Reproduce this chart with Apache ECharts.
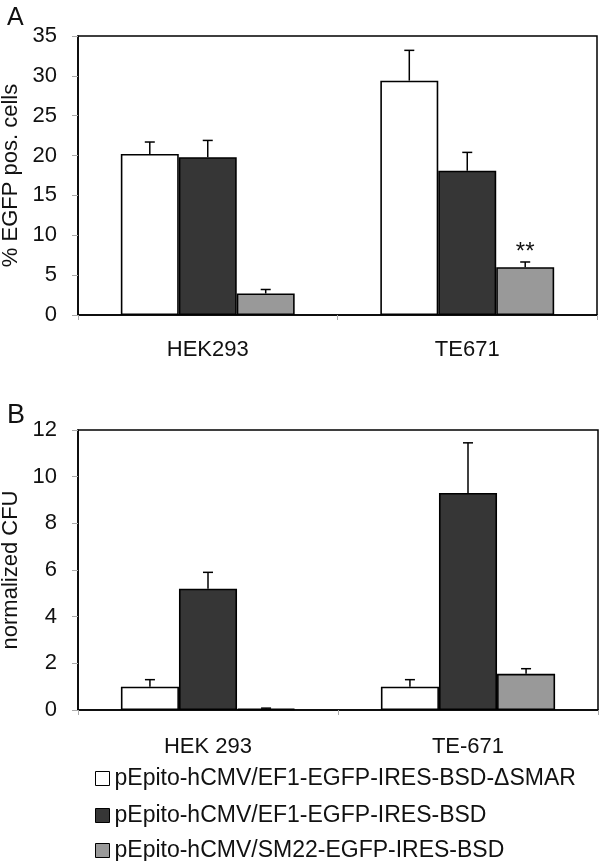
<!DOCTYPE html>
<html>
<head>
<meta charset="utf-8">
<script src="https://cdn.jsdelivr.net/npm/echarts@6/dist/echarts.min.js"></script>
<style>
html,body{margin:0;padding:0;background:#fff;}
#chart{width:600px;height:861px;}
</style>
</head>
<body>
<div id="chart"></div>
<script>
// ---- Data ----
const seriesNames = [
  'pEpito-hCMV/EF1-EGFP-IRES-BSD-\u0394SMAR',
  'pEpito-hCMV/EF1-EGFP-IRES-BSD',
  'pEpito-hCMV/SM22-EGFP-IRES-BSD'
];
const categoriesA = ['HEK293', 'TE671'];
const categoriesB = ['HEK 293', 'TE-671'];

// Panel A: % EGFP pos. cells
const aWhite = [20.2, 29.4];
const aWhiteErr = [1.5, 3.8];
const aDark = [19.8, 18.1];
const aDarkErr = [2.1, 2.3];
const aGray = [2.7, 6.0];
const aGrayErr = [0.5, 0.65];
const aGrayMarks = ['', '**'];

// Panel B: normalized CFU
const bWhite = [1.0, 1.0];
const bWhiteErr = [0.3, 0.3];
const bDark = [5.2, 9.3];
const bDarkErr = [0.7, 2.15];
const bGray = [0.05, 1.55];
const bGrayErr = [0.03, 0.22];

const colors = ['#ffffff', '#363636', '#999999'];
const FONT = 'Liberation Sans, Arial, sans-serif';
const GAP = 0.67; // fraction of band occupied by bar group

function renderErr(params, api) {
  const cat = api.value(0), val = api.value(1), err = api.value(2), k = api.value(3);
  const base = api.coord([cat, val]);
  const top = api.coord([cat, val + err]);
  const band = api.size([1, 0])[0];
  const bw = band * GAP / 3;
  const x = base[0] + (k - 1) * bw;
  const st = { stroke: '#000', lineWidth: 1.5 };
  return {
    type: 'group',
    children: [
      { type: 'line', shape: { x1: x, y1: base[1], x2: x, y2: top[1] }, style: st },
      { type: 'line', shape: { x1: x - 5, y1: top[1], x2: x + 5, y2: top[1] }, style: st }
    ]
  };
}

function errData(vals, errs, k) {
  return vals.map((v, i) => [i, v, errs[i], k]);
}

function barSeries(name, data, k, gi, extra) {
  return Object.assign({
    name: name,
    type: 'bar',
    xAxisIndex: gi, yAxisIndex: gi,
    data: data,
    barGap: '0%',
    barCategoryGap: '33%',
    itemStyle: { color: colors[k], borderColor: '#000', borderWidth: 1.6 },
    emphasis: { disabled: true },
    z: 2
  }, extra || {});
}

function errSeries(vals, errs, k, gi) {
  return {
    type: 'custom',
    xAxisIndex: gi, yAxisIndex: gi,
    renderItem: renderErr,
    data: errData(vals, errs, k),
    z: 3,
    silent: true
  };
}

function xAxisCfg(cats, gi, margin) {
  return {
    type: 'category', gridIndex: gi, data: cats,
    axisLine: { lineStyle: { color: '#000', width: 1.5 } },
    axisTick: { show: true, length: 5, lineStyle: { color: '#aaa' } },
    axisLabel: { color: '#111', fontSize: 22, fontFamily: FONT, margin: margin }
  };
}

function yAxisCfg(gi, max, interval, name) {
  return {
    type: 'value', gridIndex: gi, min: 0, max: max, interval: interval,
    name: name, nameLocation: 'middle', nameGap: 55,
    nameTextStyle: { color: '#111', fontSize: 22, fontFamily: FONT },
    axisLine: { show: true, lineStyle: { color: '#000', width: 1.5 } },
    axisTick: { show: true, length: 6, lineStyle: { color: '#aaa' } },
    axisLabel: { color: '#111', fontSize: 22, fontFamily: FONT, margin: 21 },
    splitLine: { show: false }
  };
}

function legendCfg(i, top) {
  return {
    orient: 'horizontal', left: 95, top: top, padding: 0,
    itemWidth: 14, itemHeight: 14,
    icon: 'rect',
    data: [seriesNames[i]],
    itemStyle: { borderColor: '#000', borderWidth: 1 },
    textStyle: { color: '#111', fontSize: 23, lineHeight: 22, fontFamily: FONT }
  };
}

const chart = echarts.init(document.getElementById('chart'), null, { renderer: 'canvas' });
chart.setOption({
  animation: false,
  backgroundColor: '#fff',
  title: [
    { text: 'A', left: 2, top: 1, textStyle: { fontSize: 25, fontWeight: 'normal', color: '#111', fontFamily: FONT } },
    { text: 'B', left: 2, top: 397, textStyle: { fontSize: 27, fontWeight: 'normal', color: '#111', fontFamily: FONT } }
  ],
  grid: [
    { left: 78, right: 3, top: 36, height: 279, containLabel: false, outerBoundsMode: 'none', show: true, borderColor: '#000', borderWidth: 1.5, backgroundColor: 'transparent' },
    { left: 78, right: 2, top: 430, height: 280, containLabel: false, outerBoundsMode: 'none', show: true, borderColor: '#000', borderWidth: 1.5, backgroundColor: 'transparent' }
  ],
  xAxis: [xAxisCfg(categoriesA, 0, 24), xAxisCfg(categoriesB, 1, 26)],
  yAxis: [yAxisCfg(0, 35, 5, '% EGFP pos. cells'), yAxisCfg(1, 12, 2, 'normalized CFU')],
  legend: [legendCfg(0, 767), legendCfg(1, 804), legendCfg(2, 839)],
  series: [
    barSeries(seriesNames[0], aWhite, 0, 0),
    barSeries(seriesNames[1], aDark, 1, 0),
    barSeries(seriesNames[2], aGray, 2, 0, {
      label: {
        show: true, position: 'top', distance: 3,
        formatter: p => aGrayMarks[p.dataIndex],
        fontSize: 24, color: '#111', fontFamily: FONT
      }
    }),
    errSeries(aWhite, aWhiteErr, 0, 0),
    errSeries(aDark, aDarkErr, 1, 0),
    errSeries(aGray, aGrayErr, 2, 0),
    barSeries(seriesNames[0], bWhite, 0, 1),
    barSeries(seriesNames[1], bDark, 1, 1),
    barSeries(seriesNames[2], bGray, 2, 1),
    errSeries(bWhite, bWhiteErr, 0, 1),
    errSeries(bDark, bDarkErr, 1, 1),
    errSeries(bGray, bGrayErr, 2, 1)
  ]
});
</script>
</body>
</html>
